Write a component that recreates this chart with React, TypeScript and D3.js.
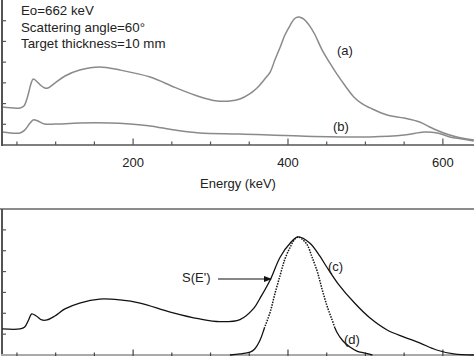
import React from 'react';
import * as d3 from 'd3';

const W = 474;
const H = 356;

// x in keV, y in arbitrary units (tick units)
const aE = [31,54,59,64,68,71,75,80,86,90,99,112,131,157,183,222,254,286,306,325,338,351,360,369,377,383,390,396,403,408,413,418,423,428,435,444,454,463,474,485,496,506,528,550,570,583,601,618,640];
const aV = [1.83,1.79,1.88,2.37,2.95,3.19,3.09,2.90,2.75,2.75,2.99,3.33,3.62,3.77,3.62,3.28,2.78,2.33,2.14,2.12,2.22,2.48,2.75,3.14,3.52,4.10,4.73,5.31,5.79,6.08,6.18,6.13,5.99,5.75,5.31,4.59,3.96,3.43,2.85,2.32,1.98,1.79,1.45,1.30,1.11,0.87,0.58,0.39,0.24];

const bE = [31,54,60,67,71,77,86,99,131,170,196,222,254,286,338,416,506,550,576,593,609,625,640];
const bV = [0.63,0.58,0.72,1.06,1.21,1.16,1.01,1.01,1.06,1.06,1.01,0.92,0.72,0.58,0.53,0.43,0.39,0.48,0.63,0.58,0.39,0.29,0.19];

const cE = [31,54,60,65,69,75,82,89,99,112,131,157,183,209,248,286,312,338,356,364,377,390,403,413,428,441,450,464,486,506,528,550,570,592,614,640];
const cV = [1.25,1.25,1.34,1.68,1.97,1.87,1.68,1.68,1.87,2.21,2.49,2.68,2.64,2.49,2.06,1.73,1.60,1.70,2.25,2.73,3.60,4.70,5.37,5.66,5.37,4.75,4.22,3.45,2.49,1.77,1.20,0.86,0.58,0.24,0.05,0];

const dE = [325,338,351,357,364,370,377,383,390,396,403,409,413,418,425,431,438,444,450,457,463,471,480,489,498,509];
const dV = [0,0.05,0.14,0.29,0.72,1.34,2.06,2.92,3.84,4.60,5.18,5.56,5.66,5.56,5.27,4.70,3.98,3.16,2.40,1.68,1.10,0.67,0.38,0.19,0.10,0];

const xMinorTicks = [50,100,150,250,300,350,450,500,550];
const xMajorTicks = [200,400,600];
const yTicks = [1,2,3,4,5,6];

const infoLines = ['Eo=662 keV', 'Scattering angle=60\u00b0', 'Target thickness=10 mm'];

const font = "'Liberation Sans', Arial, Helvetica, sans-serif";

export default function App() {
  const x = d3.scaleLinear().domain([30.7, 640.2]).range([2, 474]);
  const yTop = d3.scaleLinear().domain([0, 7]).range([145, 0]);
  const yBot = d3.scaleLinear().domain([0, 7]).range([355, 209]);

  const mk = (ys: d3.ScaleLinear<number, number>) =>
    d3.line<[number, number]>().x(d => x(d[0])).y(d => ys(d[1])).curve(d3.curveCatmullRom.alpha(0.5));

  const zip = (a: number[], b: number[]) => a.map((v, i) => [v, b[i]] as [number, number]);

  const lt = mk(yTop);
  const lb = mk(yBot);

  const axisCol = '#555';

  const ticks = (yAxis: number, col: string) => (
    <g>
      {xMinorTicks.map(t => (
        <line key={'m' + t} x1={x(t)} x2={x(t)} y1={yAxis} y2={yAxis - 3.5} stroke={col} strokeWidth={1.2} />
      ))}
      {xMajorTicks.map(t => (
        <line key={'M' + t} x1={x(t)} x2={x(t)} y1={yAxis} y2={yAxis - 6.5} stroke={col} strokeWidth={1.2} />
      ))}
    </g>
  );

  return (
    <svg width={W} height={H} style={{ position: 'absolute', left: 0, top: 0, background: '#fff' }}>
      <defs>
        <clipPath id="dotClip"><rect x={0} y={200} width={W} height={128} /></clipPath>
        <clipPath id="solidClip"><rect x={0} y={328} width={W} height={40} /></clipPath>
      </defs>

      {/* top panel */}
      <path d={lt(zip(aE, aV)) || ''} fill="none" stroke="#8a8a8a" strokeWidth={1.5} />
      <path d={lt(zip(bE, bV)) || ''} fill="none" stroke="#8a8a8a" strokeWidth={1.5} />
      <line x1={2} x2={2} y1={0} y2={146} stroke={axisCol} strokeWidth={2} />
      <line x1={1} x2={474} y1={145} y2={145} stroke={axisCol} strokeWidth={1.6} />
      {yTicks.map(t => (
        <line key={'yt' + t} x1={2} x2={6} y1={yTop(t)} y2={yTop(t)} stroke={axisCol} strokeWidth={1.2} />
      ))}
      {ticks(145, axisCol)}
      {xMajorTicks.map(t => (
        <text key={'xl' + t} x={x(t)} y={167} textAnchor="middle" fontFamily={font} fontSize={13} fill="#222">{t}</text>
      ))}
      <text x={238} y={188} textAnchor="middle" fontFamily={font} fontSize={13} fill="#222">Energy (keV)</text>
      {infoLines.map((s, i) => (
        <text key={s} x={21} y={[14.5, 31.5, 48][i]} fontFamily={font} fontSize={13.3} fill="#222">{s}</text>
      ))}
      <text x={337} y={55} fontFamily={font} fontSize={13} fill="#222">(a)</text>
      <text x={333} y={131} fontFamily={font} fontSize={13} fill="#222">(b)</text>

      {/* bottom panel */}
      <line x1={0} x2={474} y1={209} y2={209} stroke="#666" strokeWidth={1.6} />
      <line x1={2} x2={2} y1={209} y2={356} stroke={axisCol} strokeWidth={2} />
      {yTicks.map(t => (
        <line key={'yb' + t} x1={2} x2={6} y1={yBot(t)} y2={yBot(t)} stroke={axisCol} strokeWidth={1.2} />
      ))}
      <line x1={1} x2={474} y1={355} y2={355} stroke="#aaa" strokeWidth={2} />
      {ticks(356, '#444')}

      <path d={lb(zip(cE, cV)) || ''} fill="none" stroke="#111" strokeWidth={1.3} />
      <path d={lb(zip(dE, dV)) || ''} fill="none" stroke="#111" strokeWidth={1.5} strokeDasharray="1.5 1.2" clipPath="url(#dotClip)" />
      <path d={lb(zip(dE, dV)) || ''} fill="none" stroke="#111" strokeWidth={1.3} clipPath="url(#solidClip)" />

      <text x={182} y={282} fontFamily={font} fontSize={13} fill="#222">S(E')</text>
      <line x1={218} x2={266} y1={279} y2={279} stroke="#111" strokeWidth={1.1} />
      <path d="M272,279 L264,276 L264,282 Z" fill="#111" />
      <text x={328} y={271} fontFamily={font} fontSize={13} fill="#222">(c)</text>
      <text x={344} y={344} fontFamily={font} fontSize={13} fill="#222">(d)</text>
    </svg>
  );
}
